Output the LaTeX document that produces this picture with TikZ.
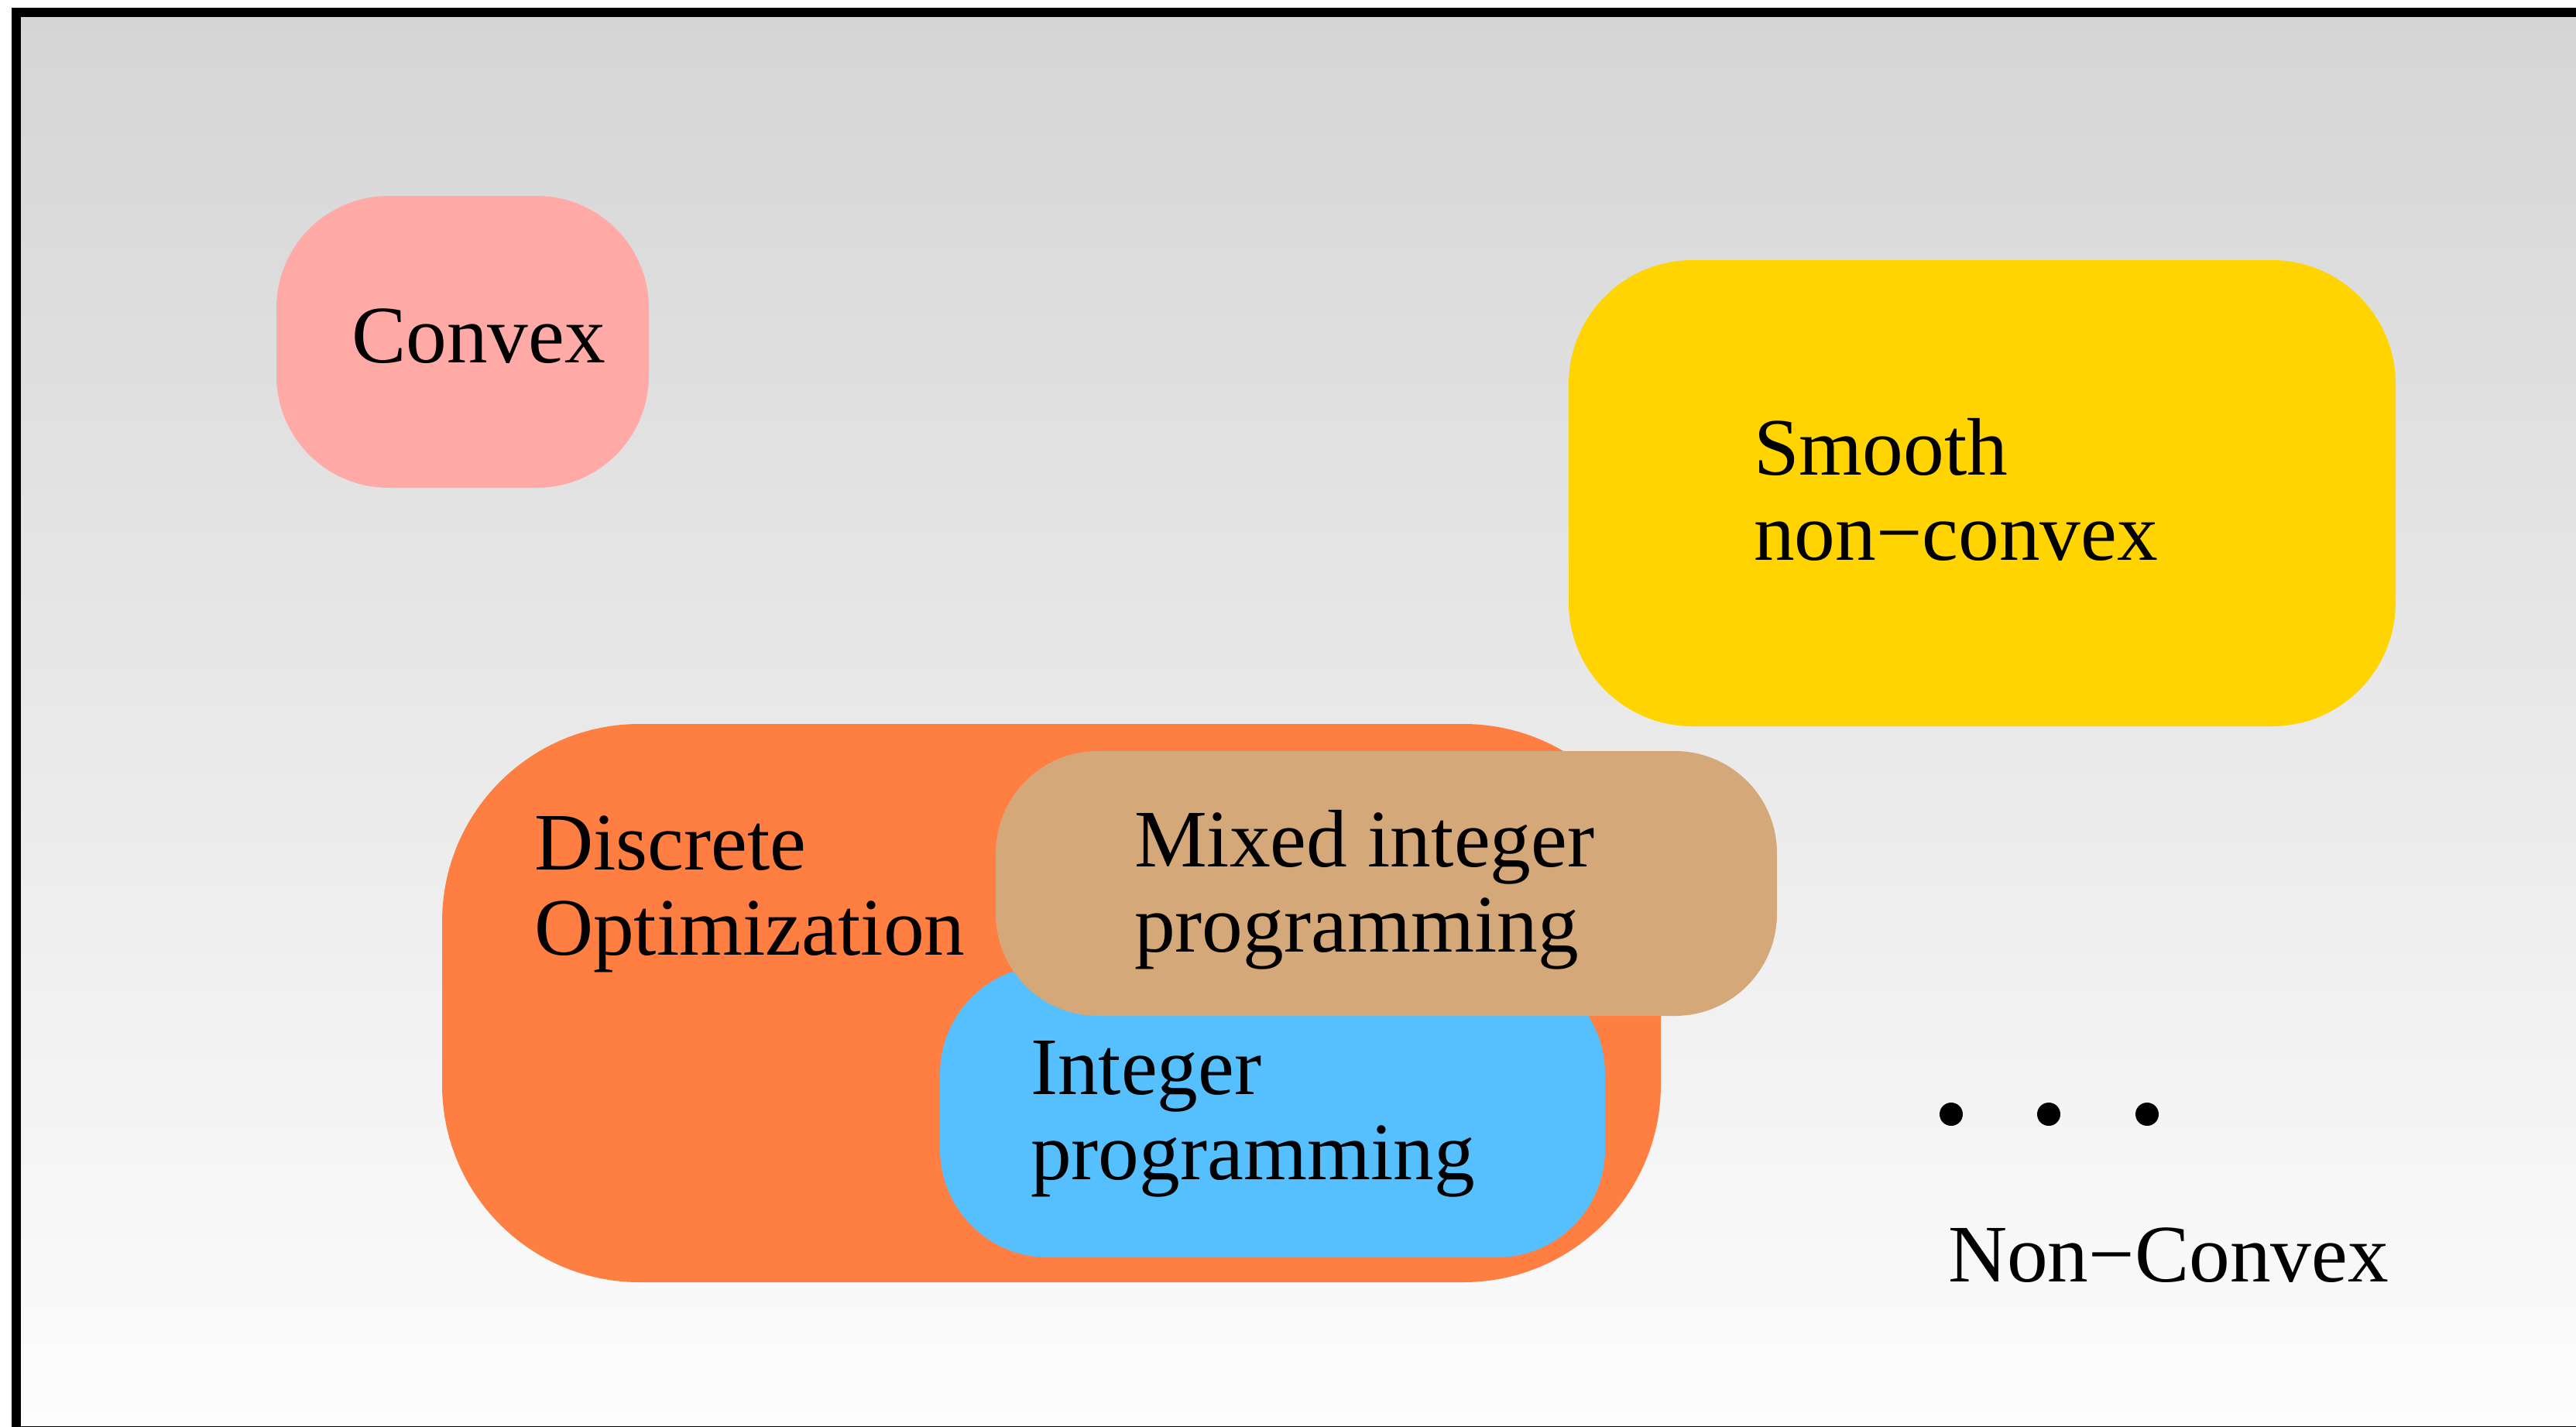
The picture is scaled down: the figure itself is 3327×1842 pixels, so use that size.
\documentclass[tikz,border=0pt]{standalone}
\usepackage{fontspec}
\setmainfont{Liberation Serif}
\definecolor{bgtop}{HTML}{D5D5D5}
\definecolor{bgbot}{HTML}{FDFDFD}
\definecolor{convexc}{HTML}{FFAAA7}
\definecolor{smoothc}{HTML}{FFD400}
\definecolor{discc}{HTML}{FF7E42}
\definecolor{intc}{HTML}{56C0FF}
\definecolor{mixc}{HTML}{D4A879}
\begin{document}
\begin{tikzpicture}[x=0.1mm,y=-0.1mm,
  blob/.style={rectangle, inner sep=0pt, outer sep=0pt, draw=none},
  lbl/.style={anchor=base west, inner sep=0pt, outer sep=0pt, font=\fontsize{30}{31.3}\selectfont},
  dotnode/.style={circle, fill=black, inner sep=0pt, minimum size=3mm}]
\useasboundingbox (0,0) rectangle (3327,1842);
\clip (0,0) rectangle (3327,1842);
\fill[white] (0,0) rectangle (3327,1842);
\shade[top color=bgtop, bottom color=bgbot] (21,16) rectangle (3345,1848);
\draw[line width=1.2mm] (21,16) rectangle (3345,1848);
% regions
\node[blob, fill=convexc, rounded corners=14.5mm, minimum width=48.1mm, minimum height=37.7mm] (convex) at (597.5,441.5) {};
\node[blob, fill=smoothc, rounded corners=16mm, minimum width=106.8mm, minimum height=60.2mm] (smooth) at (2560,637) {};
\node[blob, fill=discc, rounded corners=25.5mm, minimum width=157.4mm, minimum height=72.1mm] (discrete) at (1358,1295.5) {};
\node[blob, fill=intc, rounded corners=14mm, minimum width=85.9mm, minimum height=37.7mm] (integer) at (1643.5,1435.5) {};
\node[blob, fill=mixc, rounded corners=13.2mm, minimum width=100.9mm, minimum height=34.2mm] (mixed) at (1790.5,1141) {};
% labels
\node[lbl] (tconvex) at (454,468) {Convex};
\node[lbl] (tsmooth) at (2265,613) {\begin{tabular}[t]{@{}l@{}}Smooth\\non−convex\end{tabular}};
\node[lbl] (tdiscrete) at (690,1123) {\begin{tabular}[t]{@{}l@{}}Discrete\\Optimization\end{tabular}};
\node[lbl] (tmixed) at (1465,1119) {\begin{tabular}[t]{@{}l@{}}Mixed integer\\programming\end{tabular}};
\node[lbl] (tinteger) at (1331,1413) {\begin{tabular}[t]{@{}l@{}}Integer\\programming\end{tabular}};
\node[lbl] (tnonconvex) at (2516,1655) {Non−Convex};
% dots
\node[dotnode] (d1) at (2520,1439) {};
\node[dotnode] (d2) at (2646,1439) {};
\node[dotnode] (d3) at (2773,1439) {};
\end{tikzpicture}
\end{document}
